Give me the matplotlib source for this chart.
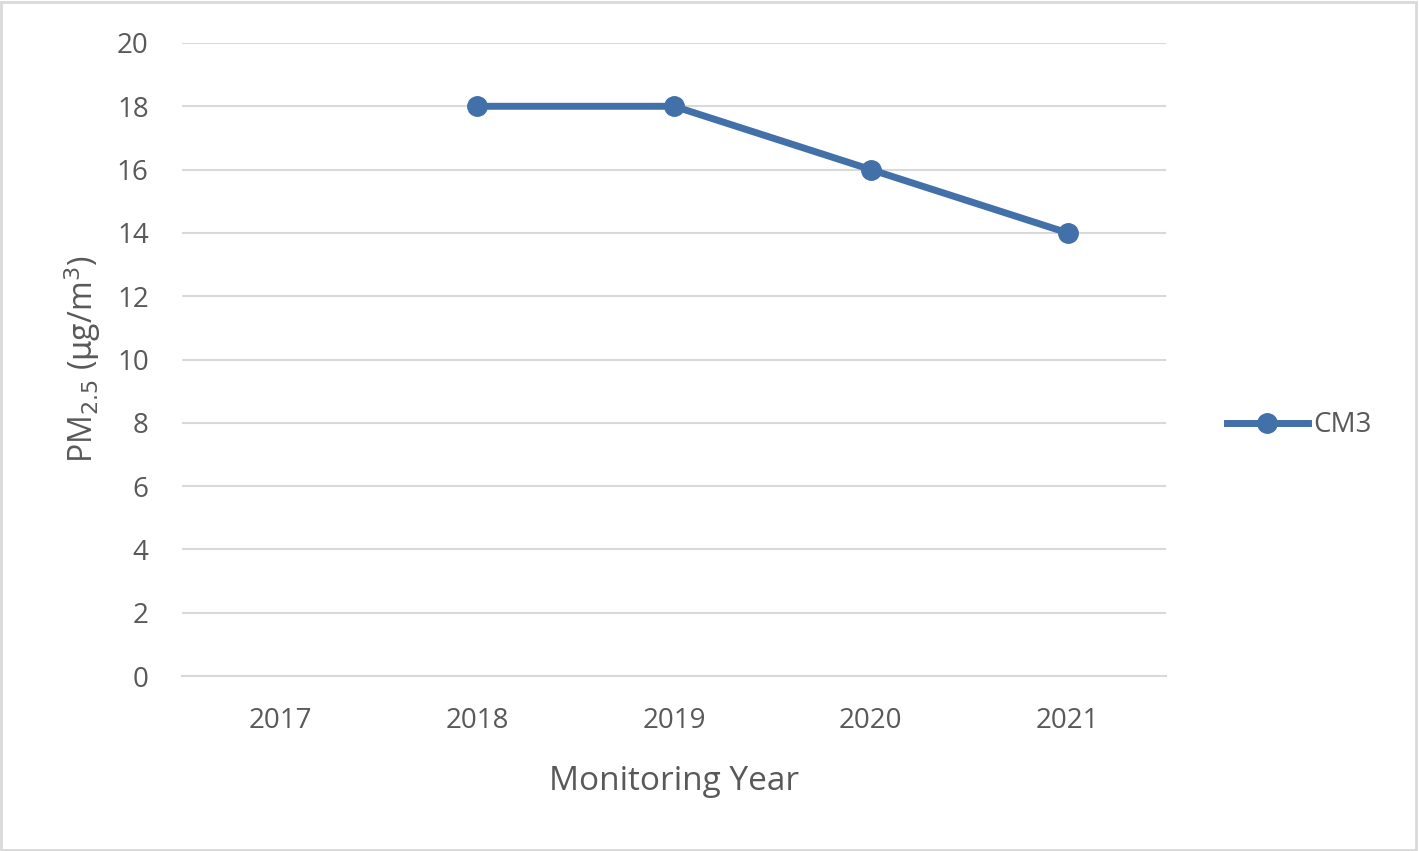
import matplotlib.pyplot as plt
import numpy as np

# data
years = ["2017", "2018", "2019", "2020", "2021"]
cm3 = [np.nan, 18, 18, 16, 14]

plt.rcParams['font.family'] = ['Open Sans', 'DejaVu Sans']
grey = '#595959'
blue = '#4270A8'

fig = plt.figure(figsize=(14.19, 8.51), dpi=100)
ax = fig.add_axes([0.1283, 0.2056, 0.6934, 0.7439])

x = np.arange(len(years))
ax.plot(x, cm3, color=blue, lw=5, marker='o', ms=14, label='CM3')

ax.set_xlim(-0.5, len(years) - 0.5)
ax.set_ylim(0, 20)
ax.set_yticks(range(0, 21, 2))
ax.set_xticks(x)
ax.set_xticklabels(years)
ax.grid(axis='y', color='#d9d9d9', lw=1.5)
ax.set_axisbelow(True)
for s in ['top', 'right', 'left']:
    ax.spines[s].set_visible(False)
ax.spines['bottom'].set_color('#d9d9d9')
ax.spines['bottom'].set_linewidth(1.5)
ax.tick_params(length=0, labelsize=20, colors=grey, pad=22)
ax.tick_params(axis='y', pad=24)

ax.set_xlabel('Monitoring Year', fontsize=24, color=grey, labelpad=22)
ax.set_ylabel(r'PM$_{2.5}$ ($\mathrm{\mu}$g/m$^3$)', fontsize=23, color=grey, labelpad=10)

fig.legend(*ax.get_legend_handles_labels(), loc='center left',
           bbox_to_anchor=(0.855, 0.5), frameon=False, borderpad=0,
           fontsize=20, labelcolor=grey, handlelength=2.9, handletextpad=0.2)

# outer frame
fig.patches.append(plt.Rectangle((0.001, 0.001), 0.997, 0.997, transform=fig.transFigure,
                                 fill=False, edgecolor='#d9d9d9', lw=2))

plt.savefig("out.png", dpi=100)
